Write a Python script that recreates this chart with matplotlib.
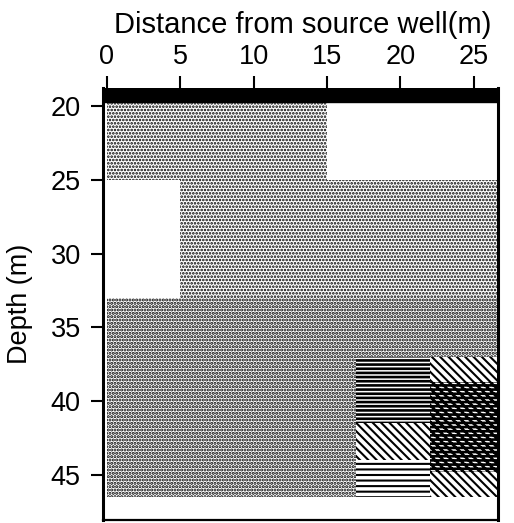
import matplotlib
matplotlib.use("Agg")
import matplotlib.pyplot as plt

plt.rcParams['font.family'] = ['Liberation Sans', 'DejaVu Sans']

# ---- data -------------------------------------------------------------
x_ticks = [0, 5, 10, 15, 20, 25]
depth_ticks = [20, 25, 30, 35, 40, 45]

# casing (black band at top)
casing_top = 18.78
casing_bottom = 19.7

# zones: horizontal extent (m), depth extent (m), texture class
zone_x0 = [0, 5, 0, 0, 17, 17, 17, 22, 22, 22]
zone_x1 = [15, 27, 27, 17, 22, 22, 22, 27, 27, 27]
zone_top = [19.7, 25, 33, 37, 37, 41.5, 44, 37, 38.7, 44.8]
zone_bottom = [25, 33, 37, 46.5, 41.5, 44, 46.5, 38.7, 44.8, 46.5]
zone_class = ['A', 'A', 'B', 'B', 'H', 'D', 'h', 'D', 'X', 'D']

textures = {
    'A': ('.....', 1.25),
    'B': ('.....', 1.5),
    'H': ('----', 1.9),
    'h': ('---', 1.5),
    'D': ('\\\\\\\\', 1.5),
    'X': ('\\\\\\\\----', 1.9),
}

# ---- figure -----------------------------------------------------------
fig = plt.figure(figsize=(5.14, 5.23), dpi=100)
ax = fig.add_axes([0.2004, 0.0057, 0.7685, 0.826])

for x0, x1, t, b, c in zip(zone_x0, zone_x1, zone_top, zone_bottom, zone_class):
    pattern, hlw = textures[c]
    with plt.rc_context({'hatch.linewidth': hlw}):
        ax.bar(x0, b - t, width=x1 - x0, bottom=t, align='edge',
               color='white', edgecolor='black', linewidth=0,
               hatch=pattern, zorder=1)

ax.axhspan(casing_top, casing_bottom, color='black', zorder=3)

ax.set_xlim(-0.25, 26.65)
ax.set_ylim(48.07, 18.78)

ax.xaxis.tick_top()
ax.xaxis.set_label_position('top')
ax.set_xticks(x_ticks)
ax.set_yticks(depth_ticks)
ax.tick_params(axis='both', direction='out', length=9, width=1.5,
               labelsize=19.5, color='black')
ax.tick_params(axis='x', pad=4)
ax.tick_params(axis='y', pad=7)

for side in ['left', 'right']:
    ax.spines[side].set_linewidth(2.2)
ax.spines['bottom'].set_linewidth(1.6)
ax.spines['top'].set_visible(False)

ax.set_xlabel('Distance from source well(m)', fontsize=21)
ax.xaxis.set_label_coords(0.505, 1.127)
ax.set_ylabel('Depth (m)', fontsize=19.5)
ax.yaxis.set_label_coords(-0.177, 0.5)

fig.savefig('out.png', dpi=100)
